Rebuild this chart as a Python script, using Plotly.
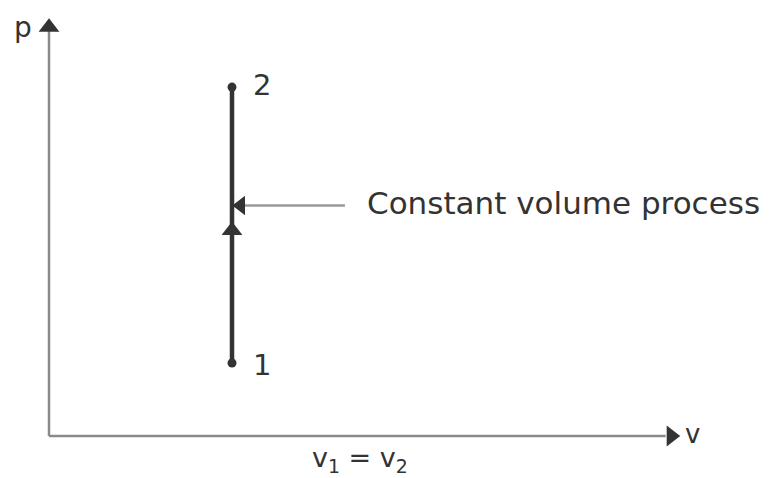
import plotly.graph_objects as go

# State values (arbitrary units)
states = ["1", "2"]
v_state = [1.0, 1.0]        # v1 = v2
p_state = [1.0, 4.78]       # p1, p2
p_arrow = 2.815             # location of the direction arrow on the process line
pointer_p = 3.158           # height of the label pointer
pointer_v_end = 1.617
label_text = "Constant volume process"

# axis extents (arrow tips)
v_axis_tip = 3.37
p_axis_tip = 5.58

W, H = 768, 470
x_range = [-41 / 183, (W - 41) / 183]
y_range = [-42 / 73, (H - 42) / 73]

TXT = "#333333"
AX = "#8a8a8a"
DARK = "#333333"
FONT = "DejaVu Sans, Verdana, sans-serif"

fig = go.Figure()

# axes lines
fig.add_trace(go.Scatter(x=[0, 0], y=[0, p_axis_tip], mode="lines",
                         line=dict(color=AX, width=2.5), hoverinfo="skip"))
fig.add_trace(go.Scatter(x=[0, v_axis_tip], y=[0, 0], mode="lines",
                         line=dict(color=AX, width=2.5), hoverinfo="skip"))
# axis arrowheads
fig.add_trace(go.Scatter(x=[0], y=[p_axis_tip + 0.02], mode="markers",
                         marker=dict(symbol="triangle-up", size=18, color=DARK),
                         hoverinfo="skip"))
fig.add_trace(go.Scatter(x=[v_axis_tip + 0.03], y=[0], mode="markers",
                         marker=dict(symbol="triangle-right", size=18, color=DARK),
                         hoverinfo="skip"))

# process line 1 -> 2
fig.add_trace(go.Scatter(x=v_state, y=p_state, mode="lines+markers",
                         line=dict(color=DARK, width=4.5),
                         marker=dict(symbol="circle", size=9, color=DARK),
                         hoverinfo="skip"))
# direction arrow on the process
fig.add_trace(go.Scatter(x=[v_state[0]], y=[p_arrow], mode="markers",
                         marker=dict(symbol="triangle-up", size=18, color=DARK),
                         hoverinfo="skip"))

# pointer to the process
fig.add_trace(go.Scatter(x=[v_state[0] + 0.06, pointer_v_end], y=[pointer_p, pointer_p],
                         mode="lines", line=dict(color="#999999", width=2.5),
                         hoverinfo="skip"))
fig.add_trace(go.Scatter(x=[v_state[0] + 0.048], y=[pointer_p], mode="markers",
                         marker=dict(symbol="triangle-left", size=17, color=DARK),
                         hoverinfo="skip"))

annotations = [
    dict(x=pointer_v_end + 0.11, y=pointer_p + 0.03, text=label_text, xanchor="left",
         yanchor="middle", showarrow=False, font=dict(size=31, color=TXT, family=FONT)),
    dict(x=v_state[1] + 0.105, y=p_state[1] + 0.03, text=states[1], xanchor="left",
         yanchor="middle", showarrow=False, font=dict(size=29, color=TXT, family=FONT)),
    dict(x=v_state[0] + 0.105, y=p_state[0] - 0.03, text=states[0], xanchor="left",
         yanchor="middle", showarrow=False, font=dict(size=29, color=TXT, family=FONT)),
    dict(x=-0.14, y=p_axis_tip + 0.02, text="p", xanchor="center",
         yanchor="middle", showarrow=False, font=dict(size=28, color=TXT, family=FONT)),
    dict(x=v_axis_tip + 0.144, y=0.03, text="v", xanchor="center",
         yanchor="middle", showarrow=False, font=dict(size=26, color=TXT, family=FONT)),
    dict(x=(v_state[0] + 0.7), y=-0.32, text="v<sub>1</sub> = v<sub>2</sub>", xanchor="center",
         yanchor="middle", showarrow=False, font=dict(size=27, color=TXT, family=FONT)),
]

fig.update_layout(
    width=W, height=H,
    margin=dict(l=0, r=0, t=0, b=0),
    paper_bgcolor="white", plot_bgcolor="white",
    showlegend=False,
    xaxis=dict(range=x_range, visible=False, fixedrange=True),
    yaxis=dict(range=y_range, visible=False, fixedrange=True),
    annotations=annotations,
)

fig.write_html("out.html")
